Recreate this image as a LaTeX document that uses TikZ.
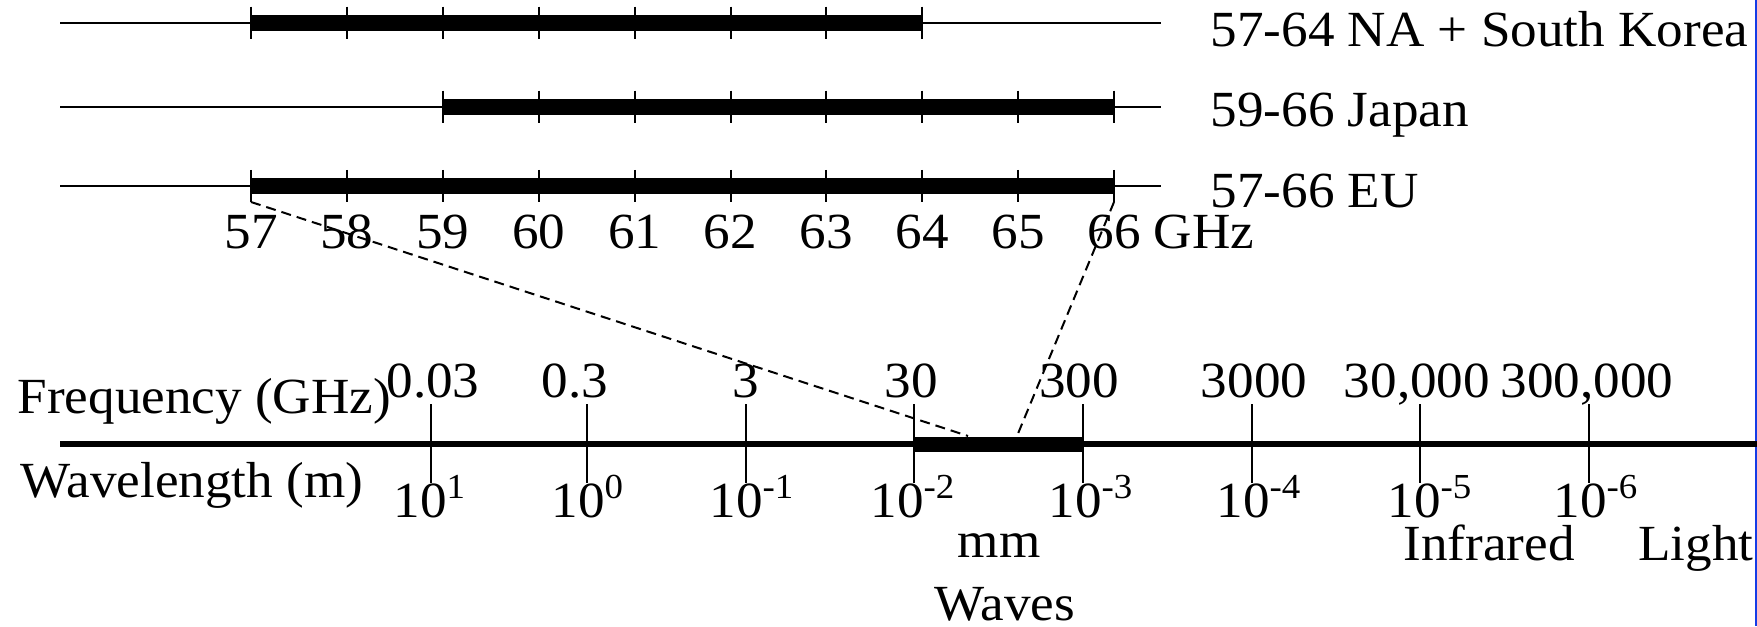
\documentclass[tikz,border=0pt]{standalone}
\usepackage{fontspec}
\setmainfont{Liberation Serif}[FakeStretch=1.05]
\usetikzlibrary{positioning}
\definecolor{EdgeBlue}{RGB}{20,60,230}

\begin{document}
\begin{tikzpicture}[x=0.1mm, y=-0.1mm,
    font=\fontsize{14.4}{17}\selectfont,
    thinline/.style={line width=0.23mm},
    band/.style={line width=1.57mm},
    tickmark/.style={line width=0.2mm},
    axisline/.style={line width=0.6mm},
    zoomline/.style={line width=0.2mm, dash pattern=on 1mm off 0.6mm},
    lbl/.style={inner sep=0pt, anchor=base}
  ]
  \useasboundingbox (0,0) rectangle (1757,626);
  \fill[EdgeBlue] (1754.5,0) rectangle (1757,626);

  % 60 GHz band allocations
  \foreach \r/\y/\a/\b/\txt/\bl in {na/22.7/57/64/{57-64 NA + South Korea}/47,
                                    jp/106.7/59/66/{59-66 Japan}/127,
                                    eu/186/57/66/{57-66 EU}/207} {
    \draw[thinline] (60,\y) -- (1161,\y);
    \draw[band] ({251+(\a-57)*95.9},\y) -- ({251+(\b-57)*95.9},\y);
    \foreach \f in {\a,...,\b}
      \draw[tickmark] ({251+(\f-57)*95.9},{\y-16}) -- ++(0,32);
    \node[lbl, anchor=base west] (\r) at (1210,\bl) {\txt};
  }
  \foreach \f in {57,...,65}
    \node[lbl] (g\f) at ({251+(\f-57)*95.9},248) {\f};
  \node[lbl] (g66) at (1114,248) {66\rlap{ GHz}};
  \coordinate (eu57) at (251,202);
  \coordinate (eu66) at (1114,202);

  % spectrum axis
  \node[lbl, anchor=base west] (freq) at (17,413) {Frequency (GHz)};
  \node[lbl, anchor=base west] (wave) at (20,497) {Wavelength (m)};
  \draw[axisline] (60,444) -- (1757,444);
  \draw[band, line width=1.5mm] (914.3,444) -- (1083,444);
  \foreach \x in {430.5,587.2,745.7,914.3,1083,1251.8,1420,1588.8}
    \draw[tickmark] (\x,404) -- (\x,483);
  \foreach \x/\t [count=\i] in {433/0.03, 575/0.3, 746/3, 911/30, 1079/300,
                                1254/3000, 1417/{30,000}, 1587/{300,000}}
    \node[lbl] (f\i) at (\x,397) {\t};
  \foreach \x/\e [count=\i] in {420/1, 578/0, 736/-1, 897/-2, 1075/-3,
                                1243/-4, 1414/-5, 1580/-6}
    \node[lbl] (w\i) at (\x,517) {10\rlap{\textsuperscript{\e}}};
  \node[lbl] (mm) at (999,557) {mm};
  \node[lbl] (mmw) at (1005,620) {Waves};
  \node[lbl] (ir) at (1489,560) {Infrared};
  \node[lbl] (vis) at (1696,560) {Light};

  % zoom into the mm-wave band
  \coordinate (mmL) at (968,436);
  \coordinate (mmR) at (1017,436);
  \draw[zoomline] (eu57) -- (mmL);
  \draw[zoomline] (eu66) -- (mmR);
\end{tikzpicture}
\end{document}
